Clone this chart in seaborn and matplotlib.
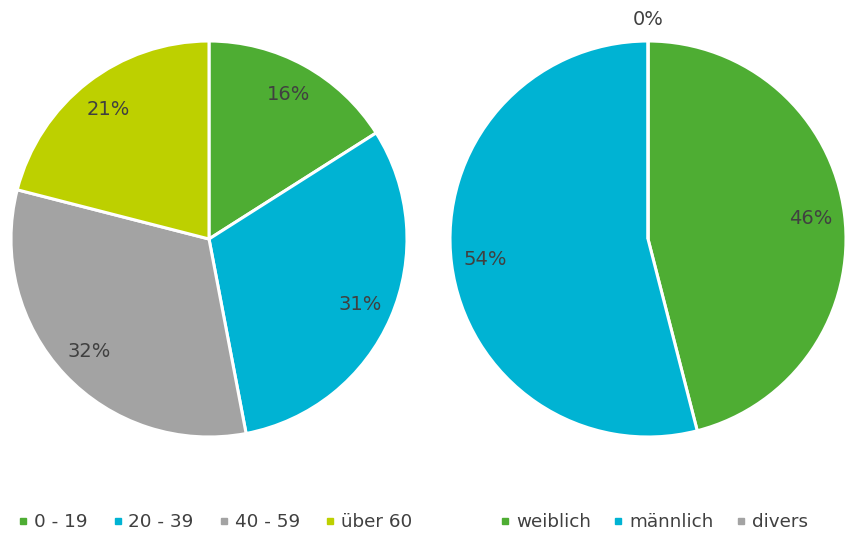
import numpy as np
import matplotlib
matplotlib.use("Agg")
import matplotlib.pyplot as plt
from matplotlib.lines import Line2D
import seaborn as sns

# Altersgruppen
age_labels = ["0 - 19", "20 - 39", "40 - 59", "über 60"]
age_share = [16, 31, 32, 21]
age_colors = ["#4EAD33", "#00B3D3", "#A3A3A3", "#BDD000"]

# Geschlecht
sex_labels = ["weiblich", "männlich", "divers"]
sex_share = [46, 54, 0]
sex_colors = ["#4EAD33", "#00B3D3", "#A3A3A3"]

sns.set_theme(style="white")
plt.rcParams["font.family"] = ["DejaVu Sans"]
TEXT = "#404040"
FS = 14
LEG_FS = 13.2

fig = plt.figure(figsize=(8.46, 5.33), dpi=100)
W, H = 846, 533
R_PX = 198
HALF = 200


def pie_axes(cx, cy):
    ax = fig.add_axes([(cx - HALF) / W, (H - cy - HALF) / H, 2 * HALF / W, 2 * HALF / H])
    ax.set_aspect("equal")
    ax.axis("off")
    return ax


def draw_pie(ax, values, colors):
    pal = sns.color_palette(colors)
    wedges, texts, autotexts = ax.pie(
        values, colors=pal, startangle=90, counterclock=False, radius=1,
        autopct=lambda p: f"{p:.0f}%", pctdistance=0.83,
        wedgeprops=dict(edgecolor="white", linewidth=2.2),
        textprops=dict(color=TEXT, fontsize=FS),
    )
    ax.set_xlim(-HALF / R_PX, HALF / R_PX)
    ax.set_ylim(-HALF / R_PX, HALF / R_PX)
    # empty slices get their label just outside the rim
    for w, t, v in zip(wedges, autotexts, values):
        if v == 0:
            th = np.deg2rad((w.theta1 + w.theta2) / 2)
            t.set_position((1.11 * np.cos(th), 1.11 * np.sin(th)))
    return wedges


ax1 = pie_axes(209, 239)
draw_pie(ax1, age_share, age_colors)
ax2 = pie_axes(648, 239)
draw_pie(ax2, sex_share, sex_colors)


def legend(labels, colors, x0, spacing):
    handles = [Line2D([], [], marker="s", linestyle="none", markersize=4,
                      markerfacecolor=c, markeredgecolor=c) for c in colors]
    fig.legend(handles, labels, loc="center left",
               bbox_to_anchor=(x0 / W, (H - 522) / H), ncol=len(labels),
               frameon=False, fontsize=LEG_FS, labelcolor=TEXT,
               handlelength=0.3, handletextpad=0.45, columnspacing=spacing,
               borderpad=0, borderaxespad=0)


legend(age_labels, age_colors, 20, 1.5)
legend(sex_labels, sex_colors, 502, 1.35)

fig.savefig("out.png", dpi=100)
